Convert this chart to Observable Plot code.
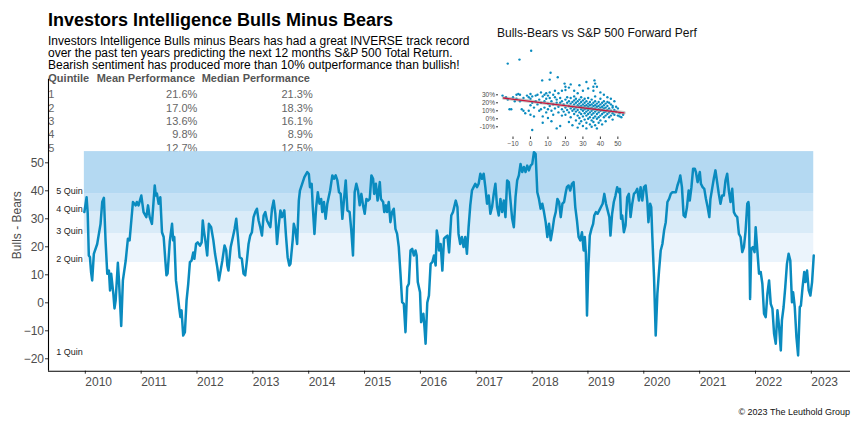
<!DOCTYPE html>
<html><head><meta charset="utf-8">
<script src="https://cdn.jsdelivr.net/npm/d3@7"></script>
<script src="https://cdn.jsdelivr.net/npm/@observablehq/plot@0.6"></script>
<style>
body{margin:0;background:#fff;font-family:"Liberation Sans",Arial,sans-serif;}
#wrap{position:relative;width:864px;height:432px;overflow:hidden;background:#fff;}
.abs{position:absolute;white-space:nowrap;}
#title{left:48px;top:10.8px;font-size:18px;font-weight:bold;line-height:18px;color:#000;z-index:5;}
#sub{left:48px;top:34.7px;font-size:12px;line-height:12.3px;color:#000;z-index:5;}
#tbl{left:0;top:0;width:864px;height:200px;z-index:0;}
.cell{position:absolute;white-space:nowrap;font-size:11px;line-height:11px;}
.hd{font-weight:bold;color:#555;}
.val{color:#666;}
#main{position:absolute;left:0;top:0;z-index:2;}
#inset{position:absolute;left:460px;top:20px;z-index:3;}
#insetTitle{left:497px;top:27.3px;font-size:12px;line-height:12px;color:#111;z-index:4;}
#caption{right:14px;top:408.4px;font-size:9px;line-height:9px;color:#111;}
</style></head>
<body>
<div id="wrap">
  <div id="title" class="abs">Investors Intelligence Bulls Minus Bears</div>
  <div id="sub" class="abs">Investors Intelligence Bulls minus Bears has had a great INVERSE track record<br>over the past ten years predicting the next 12 months S&amp;P 500 Total Return.<br>Bearish sentiment has produced more than 10% outperformance than bullish!</div>
  <div id="tbl" class="abs"></div>
  <div id="main"></div>
  <div id="insetTitle" class="abs">Bulls-Bears vs S&amp;P 500 Forward Perf</div>
  <div id="inset"></div>
  <div id="caption" class="abs">© 2023 The Leuthold Group</div>
</div>
<script>
// ---------- table data ----------
const tableHeaders = ["Quintile", "Mean Performance", "Median Performance"];
const quintiles = ["1", "2", "3", "4", "5"];
const meanPerf = ["21.6%", "17.0%", "13.6%", "9.8%", "12.7%"];
const medianPerf = ["21.3%", "18.3%", "16.1%", "8.9%", "12.5%"];

// ---------- quintile bands ----------
const quinNames = ["1 Quin", "2 Quin", "3 Quin", "4 Quin", "5 Quin"];
const quinLo = [-18.8, 14.4, 24.75, 32.6, 39];
const quinHi = [14.4, 24.75, 32.6, 39, 54];
const quinFill = ["none", "#ebf4fc", "#d9ebf8", "#c6e2f5", "#b4d9f2"];

// ---------- axis ticks ----------
const xTicks = [2010, 2011, 2012, 2013, 2014, 2015, 2016, 2017, 2018, 2019, 2020, 2021, 2022, 2023];
const yTicks = [-20, -10, 0, 10, 20, 30, 40, 50];
const insetXTicks = [-10, 0, 10, 20, 30, 40, 50];
const insetYTicks = [-10, 0, 10, 20, 30];

// ---------- Bulls minus Bears series [decimal year, value] ----------
const bullsBears = [
[2010.01,32.4],[2010.05,37.7],[2010.07,32],[2010.09,16.9],[2010.11,16.3],[2010.13,11],[2010.15,8],[2010.18,17.5],
[2010.24,21],[2010.30,28.2],[2010.33,36],[2010.36,37.5],[2010.39,22],[2010.42,10.4],[2010.45,11.5],[2010.47,4.4],
[2010.49,10.4],[2010.53,3],[2010.55,-2],[2010.57,0.8],[2010.61,14.3],[2010.63,8],[2010.67,-8.3],[2010.70,8],
[2010.75,15],[2010.79,22.9],[2010.82,22.3],[2010.88,36],[2010.93,34.8],[2010.95,36],[2010.98,34.8],[2011.03,38.3],
[2011.07,32.4],[2011.12,30.6],[2011.15,34.8],[2011.18,30.6],[2011.22,28.2],[2011.27,41.9],[2011.29,38.3],[2011.31,39],
[2011.34,35.4],[2011.37,37.7],[2011.40,25.2],[2011.43,23.5],[2011.46,15.1],[2011.48,9.8],[2011.50,10.4],[2011.54,22],
[2011.58,28.2],[2011.60,22.3],[2011.62,23.5],[2011.65,8],[2011.68,3.2],[2011.71,-2.1],[2011.73,-5.1],[2011.75,-2.7],
[2011.78,-11.7],[2011.81,-10.5],[2011.84,0.8],[2011.87,6.8],[2011.90,14.5],[2011.93,15.1],[2011.96,18],[2011.98,15.7],
[2012.01,21],[2012.04,21.6],[2012.08,20.4],[2012.11,21.6],[2012.13,29.4],[2012.15,25.8],[2012.18,21.7],[2012.21,16.9],
[2012.24,28.2],[2012.28,27],[2012.32,22.3],[2012.35,17.5],[2012.39,12.7],[2012.42,8],[2012.45,11.5],[2012.48,15],
[2012.52,20.5],[2012.55,18.7],[2012.57,13.3],[2012.59,11.5],[2012.63,19.9],[2012.67,23.5],[2012.70,26.4],[2012.73,30],
[2012.76,23.5],[2012.79,16.3],[2012.83,15.7],[2012.86,10.4],[2012.89,9.8],[2012.92,15.1],[2012.95,21],[2012.98,24],
[2013.01,25.2],[2013.04,30.6],[2013.07,32.4],[2013.10,33.6],[2013.13,29.4],[2013.16,27],[2013.19,24],[2013.22,31.2],
[2013.25,32.4],[2013.28,29.4],[2013.31,28.2],[2013.34,27],[2013.37,33.6],[2013.40,36.5],[2013.43,31.8],[2013.46,21],
[2013.49,27.6],[2013.52,33],[2013.55,30.6],[2013.59,33],[2013.62,24],[2013.65,16.3],[2013.68,13.3],[2013.70,13.9],
[2013.74,22.3],[2013.76,28.2],[2013.79,25.8],[2013.82,21],[2013.85,36.5],[2013.87,40.1],[2013.91,42.5],[2013.95,44.9],
[2014.00,46.7],[2014.03,46],[2014.05,41.3],[2014.08,42.5],[2014.10,34.2],[2014.13,24.6],[2014.16,34],[2014.19,39.5],
[2014.22,35.4],[2014.25,37.1],[2014.27,32.4],[2014.30,36],[2014.33,30],[2014.36,35.4],[2014.41,40.1],[2014.45,45.5],
[2014.48,44.3],[2014.51,45.5],[2014.54,43.7],[2014.57,39.5],[2014.60,38.9],[2014.63,30],[2014.66,37.1],[2014.69,43.7],
[2014.72,33],[2014.76,32.4],[2014.79,25.8],[2014.82,16.9],[2014.85,39.5],[2014.88,42.5],[2014.91,40.1],[2014.94,34.8],
[2014.97,38.9],[2015.00,34.8],[2015.03,31.8],[2015.06,37.1],[2015.09,36.5],[2015.12,37.1],[2015.15,45.5],[2015.18,44.3],
[2015.20,38.9],[2015.23,42.5],[2015.26,36.5],[2015.30,43.1],[2015.32,37.1],[2015.36,36],[2015.38,32.4],[2015.41,34.8],
[2015.43,32.4],[2015.46,36],[2015.49,28.8],[2015.52,32.4],[2015.55,33.6],[2015.58,26.4],[2015.61,24.6],[2015.64,19.9],
[2015.67,10.4],[2015.70,0.2],[2015.73,-0.4],[2015.76,-10.5],[2015.79,5.6],[2015.82,6.8],[2015.85,18.7],[2015.88,19.3],
[2015.91,16.9],[2015.94,18.7],[2015.96,16.9],[2015.98,7.4],[2016.02,3.8],[2016.04,-6.9],[2016.08,-3.9],[2016.10,-8.7],
[2016.12,-14.6],[2016.15,0],[2016.18,2.6],[2016.21,13.9],[2016.24,14.5],[2016.27,16.9],[2016.30,13.3],[2016.32,25.8],
[2016.34,23.5],[2016.36,18.7],[2016.39,21],[2016.42,11.5],[2016.45,22.9],[2016.48,23.5],[2016.51,24],[2016.54,18],
[2016.58,31.2],[2016.61,32.4],[2016.66,36.5],[2016.69,34.2],[2016.71,24.6],[2016.74,21],[2016.77,23.5],[2016.80,19.9],
[2016.83,23.5],[2016.86,17.5],[2016.89,27],[2016.92,34.8],[2016.95,40.1],[2016.98,41.3],[2017.01,42.5],[2017.04,41.3],
[2017.07,42.5],[2017.10,46.1],[2017.13,44.3],[2017.16,46.1],[2017.19,41.3],[2017.22,35.4],[2017.25,38.3],[2017.28,31.8],
[2017.31,34.2],[2017.34,38.9],[2017.37,42.5],[2017.40,34.2],[2017.43,31.2],[2017.46,37.1],[2017.49,32.4],[2017.52,36.5],
[2017.55,30.6],[2017.58,43.7],[2017.61,43.1],[2017.64,36.5],[2017.67,30],[2017.70,27],[2017.73,37.7],[2017.76,43.7],
[2017.79,45.5],[2017.82,49.6],[2017.85,46.7],[2017.88,48.5],[2017.91,46.7],[2017.94,49],[2017.97,47.3],[2018.00,49],
[2018.03,49.6],[2018.06,53.8],[2018.09,53.2],[2018.12,39.5],[2018.15,37.1],[2018.18,33.6],[2018.21,35.4],[2018.24,32.4],
[2018.27,28.8],[2018.30,23.5],[2018.33,28.2],[2018.36,22.3],[2018.39,25.8],[2018.42,30],[2018.45,32.4],[2018.48,37.1],
[2018.51,36],[2018.54,30.6],[2018.57,35.4],[2018.60,36],[2018.63,39.5],[2018.65,41.3],[2018.68,41.9],[2018.71,40.1],
[2018.74,42.5],[2018.77,43.1],[2018.80,34.2],[2018.83,29.4],[2018.86,23.5],[2018.89,22.3],[2018.92,25.2],[2018.95,18.7],
[2018.97,23.5],[2018.99,17.5],[2019.01,-4.5],[2019.03,10.4],[2019.06,24],[2019.09,26.4],[2019.12,28.2],[2019.14,31.2],
[2019.17,32.4],[2019.20,31.8],[2019.23,33],[2019.26,34.2],[2019.29,35.4],[2019.32,38.9],[2019.35,35.4],[2019.38,33],
[2019.41,30.6],[2019.43,24],[2019.46,31.8],[2019.49,36],[2019.52,38.3],[2019.55,41.3],[2019.58,39.5],[2019.60,40.7],
[2019.62,30],[2019.64,31.2],[2019.67,25.2],[2019.70,27.6],[2019.73,37.7],[2019.76,38.9],[2019.79,30.6],[2019.82,35.4],
[2019.85,38.9],[2019.88,39.5],[2019.91,40.7],[2019.94,36.5],[2019.97,41.3],[2020.00,36.5],[2020.03,41.3],[2020.06,41.9],
[2020.09,36],[2020.11,28.8],[2020.14,35.4],[2020.16,34.2],[2020.18,23.5],[2020.21,9.2],[2020.24,-11.7],[2020.27,3.2],
[2020.30,11.5],[2020.33,18.7],[2020.36,21],[2020.39,25.8],[2020.42,28.8],[2020.45,36],[2020.48,37.1],[2020.51,38.9],
[2020.54,39.5],[2020.57,39.5],[2020.60,39.5],[2020.63,41.9],[2020.66,43.7],[2020.68,45.5],[2020.71,41.3],[2020.74,31.2],
[2020.77,30.6],[2020.80,34.2],[2020.83,40.1],[2020.85,36.5],[2020.88,41.3],[2020.91,47.9],[2020.94,47.9],[2020.96,46.7],
[2020.99,43.1],[2021.03,46.7],[2021.05,42.5],[2021.08,41.3],[2021.11,40.7],[2021.14,37.1],[2021.17,34.2],[2021.20,30.6],
[2021.22,37.1],[2021.25,40.7],[2021.28,44.3],[2021.31,47.3],[2021.34,43.1],[2021.37,38.9],[2021.40,35.4],[2021.43,38.3],
[2021.46,38.3],[2021.49,43.7],[2021.52,46.1],[2021.55,40.1],[2021.58,36],[2021.61,40.7],[2021.64,32.4],[2021.67,31.2],
[2021.70,30.6],[2021.73,24.6],[2021.76,23.5],[2021.79,18.1],[2021.82,19.9],[2021.85,25.8],[2021.88,35.4],[2021.90,36],
[2021.91,34.2],[2021.93,1.4],[2021.95,19.3],[2021.98,19.9],[2022.01,18.1],[2022.03,27],[2022.06,18.7],[2022.09,10.4],
[2022.12,11],[2022.15,6.8],[2022.18,-3.9],[2022.21,-5.1],[2022.24,3.2],[2022.27,8],[2022.30,-0.4],[2022.33,-2.1],
[2022.36,-11.1],[2022.39,-14.6],[2022.42,-2.7],[2022.45,-8.7],[2022.48,-17],[2022.50,-6.3],[2022.53,-1.5],[2022.56,5.6],
[2022.59,13.9],[2022.62,17.5],[2022.65,15.1],[2022.68,0.2],[2022.70,3.8],[2022.73,-1.5],[2022.76,-12.3],[2022.79,-18.8],
[2022.82,-1.5],[2022.84,-1],[2022.87,5.6],[2022.90,11],[2022.92,7.4],[2022.95,11.5],[2022.98,4.4],[2023.01,2.6],
[2023.04,7.4],[2023.07,16.9]
];

// ---------- inset scatter [Bulls-Bears, fwd 12m return %] ----------
const scatterPairs = [
[0.4,85],[-13,69],[-6.3,74],[11.5,57.5],[6.7,48],[11,49],[15.6,52],[19.5,44],[20,40],[23,43],[22,39],[28,42],[32,46],
[36.6,48],[37,44],[36,40],[33,38],[38,40],[36,35],[40,33],[42,30],[44,27],[30,35],[25,35],[20,36],[27,32],
[-16,29],[-14,27],[-13,24],[-12,12],[-11,12],[-10,27],[-9,22],[-8,25],[-8,30],[-7,31],[-6,30],[-6,22],[-5,12],[-4,26],
[-4,10],[-3,7],[-2,29],[-1,27],[-1,10],[0,31],[0,25],[0,17],[0,5],[1,28],[1,20],[1,-14],[2,3],[2,14],[3,29],[3,22],
[4,30],[4,18],[5,24],[5,10],[6,33],[6,20],[6,12],[7,28],[7,-5],[7,3],[8,30],[8,22],[8,14],[9,32],[9,25],[9,8],[10,29],
[10,19],[10,12],[10,1],[11,26],[11,16],[11,33],[12,22],[12,-3],[12,10],[13,30],[13,18],[13,5],[14,27],[14,13],[14,35],
[15,20],[15,-12],[15,24],[16,8],[16,32],[16,15],[17,26],[17,20],[17,-9],[18,22],[18,12],[18,35],[18,4],
[19,18],[19,9],[20,24],[20,14],[20,5],[21,20],[21,11],[21,27],[22,16],[22,22],[22,8],[22,-4],[23,19],[23,13],[23,26],
[23,2],[24,21],[24,15],[24,10],[24,-8],[25,23],[25,18],[25,12],[25,6],[25,28],[26,20],[26,14],[26,9],[26,-2],[26,25],
[27,22],[27,17],[27,11],[27,4],[27,-11],[28,24],[28,19],[28,15],[28,8],[28,1],[28,-6],[29,21],[29,16],[29,12],[29,6],
[29,-3],[29,27],[30,23],[30,18],[30,14],[30,10],[30,3],[30,-9],[31,20],[31,16],[31,12],[31,7],[31,-1],[31,25],[32,22],
[32,17],[32,13],[32,9],[32,4],[32,-5],[32,-12],[33,19],[33,15],[33,11],[33,6],[33,0],[33,26],[34,21],[34,17],[34,13],
[34,8],[34,2],[34,-7],[35,18],[35,14],[35,10],[35,5],[35,-2],[35,24],[35,-10],[36,20],[36,16],[36,12],[36,7],[36,1],
[36,-4],[37,22],[37,17],[37,13],[37,9],[37,3],[37,-8],[37,28],[38,19],[38,15],[38,11],[38,6],[38,0],[38,-12],[39,21],
[39,16],[39,12],[39,8],[39,2],[39,-5],[40,18],[40,14],[40,10],[40,4],[40,-2],[40,25],[41,20],[41,15],[41,11],[41,6],
[41,-7],[42,17],[42,13],[42,8],[42,2],[42,22],[43,19],[43,14],[43,9],[43,4],[43,-3],[44,16],[44,11],[44,6],[44,21],
[45,13],[45,8],[45,2],[46,18],[46,10],[46,4],[47,14],[47,7],[47,-1],[48,11],[48,5],[49,9],[49,15],[50,4],[51,7],[52,2],
[53,5],[46,25],[47,16],[48,22],[45,20],[50,13],[51,3]
];
// fitted regression line
const fitX = [-15.4, 53.5];
const fitY = [26, 7.5];

// ---------- build table ----------
const tbl = document.getElementById("tbl");
function cell(txt, cls, top, left, right) {
  const d = document.createElement("div");
  d.className = "cell " + cls;
  d.textContent = txt;
  d.style.top = top + "px";
  if (left != null) d.style.left = left + "px";
  if (right != null) d.style.right = (864 - right) + "px";
  tbl.appendChild(d);
}
cell(tableHeaders[0], "hd", 72.7, 48.3, null);
cell(tableHeaders[1], "hd", 72.7, 96.7, null);
cell(tableHeaders[2], "hd", 72.7, 201.7, null);
quintiles.forEach((q, i) => {
  const top = 89.2 + i * 13.4;
  cell(q, "val", top, 48.3, null);
  cell(meanPerf[i], "val", top, null, 197.3);
  cell(medianPerf[i], "val", top, null, 312.7);
});

// ---------- main chart ----------
const lineData = bullsBears.map(([year, value]) => ({year, value}));
const x0 = d3.min(lineData, d => d.year), x1 = d3.max(lineData, d => d.year);
const bands = quinNames.map((name, i) => ({name, lo: quinLo[i], hi: quinHi[i], fill: quinFill[i], x1: x0, x2: x1}));
const X_DOMAIN = [2009.368, 2023.728];
const Y_DOMAIN = [-24.43, 79.86];

const main = Plot.plot({
  width: 864, height: 400,
  marginLeft: 48, marginRight: 14, marginTop: 78.7, marginBottom: 29.3,
  style: {background: "transparent", fontFamily: "Liberation Sans, Arial, sans-serif", overflow: "visible"},
  x: {type: "linear", domain: X_DOMAIN},
  y: {domain: Y_DOMAIN},
  marks: [
    Plot.rect(bands.filter(d => d.fill !== "none"), {x1: "x1", x2: "x2", y1: "lo", y2: "hi", fill: "fill"}),
    Plot.line(lineData, {x: "year", y: "value", stroke: "#0a8bbf", strokeWidth: 2.5, strokeLinejoin: "round"}),
    Plot.text(bands, {x: "x1", y: "lo", text: "name", textAnchor: "end", lineAnchor: "bottom", dx: -1.5, fontSize: 9, fill: "#222"}),
    Plot.axisY({ticks: yTicks, tickSize: 3, tickPadding: 1.5, fontSize: 12, stroke: "#333", fill: "#4d4d4d",
      label: "Bulls - Bears", labelAnchor: "center", labelArrow: "none", labelOffset: 36}),
    Plot.axisX({ticks: xTicks, tickFormat: d => String(d), tickSize: 3, tickPadding: 3.5, fontSize: 12,
      stroke: "#333", fill: "#4d4d4d", textAnchor: "start", dx: 1.5, label: null}),
    Plot.ruleX([X_DOMAIN[0]], {y1: Y_DOMAIN[0], y2: Y_DOMAIN[1], stroke: "#000", strokeWidth: 1.1}),
    Plot.ruleY([Y_DOMAIN[0]], {x1: X_DOMAIN[0], x2: X_DOMAIN[1], stroke: "#000", strokeWidth: 1.1})
  ]
});
document.getElementById("main").appendChild(main);

// ---------- inset ----------
const pts = scatterPairs.map(([bb, ret]) => ({bb, ret}));
const fit = fitX.map((v, i) => ({bb: v, ret: fitY[i]}));
const inset = Plot.plot({
  width: 180, height: 135,
  marginLeft: 38, marginRight: 10.4, marginTop: 26.3, marginBottom: 18.5,
  style: {background: "transparent", fontFamily: "Liberation Sans, Arial, sans-serif", overflow: "visible"},
  x: {domain: [-18.3, 57]},
  y: {domain: [-22.75, 90]},
  marks: [
    Plot.dot(pts, {x: "bb", y: "ret", r: 1.2, fill: "#0a8bbf", stroke: "none"}),
    Plot.line(fit, {x: "bb", y: "ret", stroke: "#999", strokeOpacity: 0.55, strokeWidth: 3.5}),
    Plot.line(fit, {x: "bb", y: "ret", stroke: "#c8153a", strokeWidth: 1.3}),
    Plot.axisX({ticks: insetXTicks, tickSize: 2.5, tickPadding: 2, fontSize: 6.5, stroke: "#333", fill: "#4d4d4d", label: null}),
    Plot.axisY({ticks: insetYTicks, tickFormat: d => d + "%", tickSize: 2, tickPadding: 1.5, fontSize: 6.5, stroke: "#333", fill: "#4d4d4d", label: null})
  ]
});
document.getElementById("inset").appendChild(inset);
</script>
</body></html>
